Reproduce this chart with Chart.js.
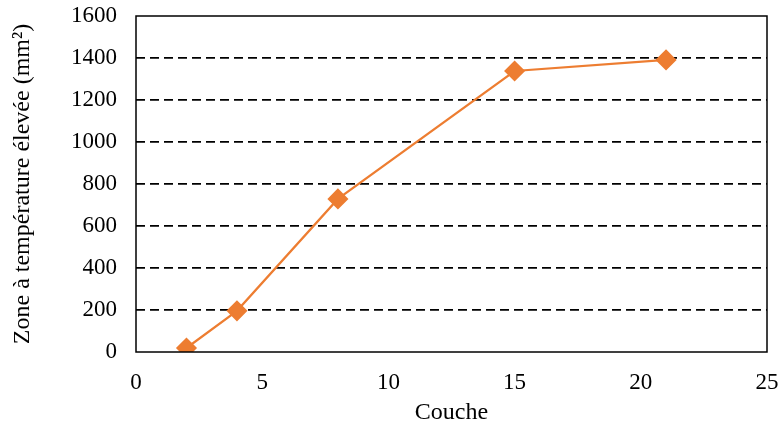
<!DOCTYPE html>
<html>
<head>
<meta charset="utf-8">
<script src="https://cdn.jsdelivr.net/npm/chart.js@4"></script>
<style>
  html, body { margin: 0; padding: 0; background: #fff; }
  #wrap { width: 780px; height: 427px; }
</style>
</head>
<body>
<div id="wrap"><canvas id="chart" width="780" height="427"></canvas></div>
<script>
// couches et surface de la zone chaude
const couches = [2, 4, 8, 15, 21];
const zones = [19, 196, 729, 1338, 1391];
const yTicks = [0, 200, 400, 600, 800, 1000, 1200, 1400, 1600];
const xTicks = [0, 5, 10, 15, 20, 25];

const orange = '#ED7D31';
const serif = '"Liberation Serif", "Times New Roman", serif';
const tickFont = { family: serif, size: 23 };
const titleFont = { family: serif, size: 24 };

// cadre noir autour de la zone de tracé
const frame = {
  id: 'frame',
  afterDraw(chart) {
    const { ctx, chartArea: a } = chart;
    ctx.save();
    ctx.strokeStyle = '#000';
    ctx.lineWidth = 1.5;
    ctx.strokeRect(a.left, a.top, a.right - a.left, a.bottom - a.top);
    ctx.restore();
  }
};

new Chart(document.getElementById('chart'), {
  type: 'line',
  data: {
    datasets: [{
      data: couches.map((x, i) => ({ x, y: zones[i] })),
      borderColor: orange,
      backgroundColor: orange,
      borderWidth: 2.2,
      pointStyle: 'rectRot',
      pointRadius: 9,
      pointHoverRadius: 9,
      tension: 0
    }]
  },
  options: {
    responsive: false,
    animation: false,
    layout: { padding: { top: 16, right: 13, left: 0, bottom: 0 } },
    plugins: { legend: { display: false }, tooltip: { enabled: false } },
    scales: {
      x: {
        type: 'linear',
        min: 0, max: 25,
        afterBuildTicks: s => { s.ticks = xTicks.map(v => ({ value: v })); },
        afterFit: s => { s.height = 75; s.paddingLeft = 0; s.paddingRight = 0; },
        grid: { display: false, drawTicks: false },
        border: { display: false },
        ticks: { color: '#000', font: tickFont, padding: 17, maxRotation: 0, callback: v => String(v) },
        title: { display: true, text: 'Couche', color: '#000', font: titleFont, padding: { top: 2, bottom: 0 } }
      },
      y: {
        min: 0, max: 1600,
        afterBuildTicks: s => { s.ticks = yTicks.map(v => ({ value: v })); },
        afterFit: s => { s.width = 136; s.paddingTop = 0; s.paddingBottom = 0; },
        grid: {
          color: c => (c.tick.value === 0 || c.tick.value === 1600) ? 'rgba(0,0,0,0)' : '#000',
          lineWidth: 1.8,
          drawTicks: false
        },
        border: { display: false, dash: [9, 5] },
        ticks: { color: '#000', font: tickFont, padding: 19, callback: v => String(v) },
        title: { display: true, text: 'Zone à température élevée (mm²)', color: '#000', font: titleFont, padding: { top: 8, bottom: 4 } }
      }
    }
  },
  plugins: [frame]
});
</script>
</body>
</html>
